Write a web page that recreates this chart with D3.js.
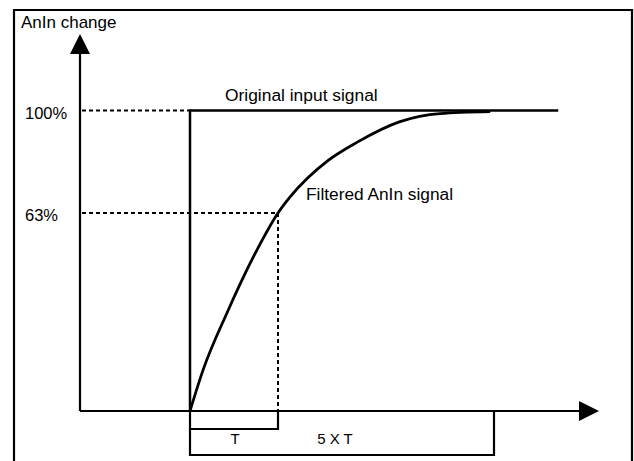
<!DOCTYPE html>
<meta charset="utf-8">
<style>
  body { margin: 0; background: #fff; }
  svg text { font-family: "Liberation Sans", Arial, sans-serif; fill: #000; }
</style>
<body>
<script src="https://cdn.jsdelivr.net/npm/d3@7/dist/d3.min.js"></script>
<script>
// levels on the vertical axis (percent of the change)
var levels = [100, 63];
var levelLabels = ["100%", "63%"];

// original input: a step at t = 0 (t in units of T)
var inputT = [0, 0, 6.19];
var inputV = [0, 100, 100];

// filtered AnIn signal
var filteredT = [0, 0.148, 0.42, 0.76, 1, 1.22, 1.93, 2.46, 3.26, 4.0, 4.93];
var filteredV = [0, 13.0, 31.2, 51.2, 63, 68.7, 82.0, 88.5, 96.0, 98.9, 99.6];

// time brackets under the axis
var bracketEnds = [1, 5];
var bracketLabels = ["T", "5 X T"];

var width = 634, height = 461;
var axisX = 80, axisY = 411, axisTop = 34, axisRight = 599;

var x = d3.scaleLinear().domain([0, 1, 5]).range([190, 278, 494]);
var y = d3.scaleLinear().domain([0, 63, 100]).range([axisY, 213, 110.5]);

var svg = d3.select("body").append("svg")
    .attr("width", width)
    .attr("height", height);

// frame
svg.append("path")
    .attr("d", "M14,470V10H632V470")
    .attr("fill", "none")
    .attr("stroke", "#000")
    .attr("stroke-width", 2.2);

svg.append("text")
    .attr("x", 21).attr("y", 28)
    .style("font-size", "17px")
    .text("AnIn change");

// axes
svg.append("line")
    .attr("x1", axisX).attr("x2", axisX)
    .attr("y1", axisTop + 18).attr("y2", axisY)
    .attr("stroke", "#000").attr("stroke-width", 2.2);
svg.append("path")
    .attr("d", "M" + axisX + "," + axisTop + "L" + (axisX + 10) + "," + (axisTop + 20) + "L" + (axisX - 10) + "," + (axisTop + 20) + "Z");

svg.append("line")
    .attr("x1", axisX).attr("x2", axisRight - 18)
    .attr("y1", axisY).attr("y2", axisY)
    .attr("stroke", "#000").attr("stroke-width", 1.8);
svg.append("path")
    .attr("d", "M" + axisRight + "," + axisY + "L" + (axisRight - 20) + "," + (axisY - 10) + "L" + (axisRight - 20) + "," + (axisY + 10) + "Z");

// level labels and dashed guides
var guideEnd = [0, 1];
levels.forEach(function(v, i) {
  svg.append("text")
      .attr("x", 25).attr("y", y(v) + 8)
      .style("font-size", "16.5px")
      .text(levelLabels[i]);
  svg.append("line")
      .attr("x1", axisX + 2).attr("x2", x(guideEnd[i]))
      .attr("y1", y(v)).attr("y2", y(v))
      .attr("stroke", "#000").attr("stroke-width", 2)
      .attr("stroke-dasharray", "4,3");
});
svg.append("line")
    .attr("x1", x(1)).attr("x2", x(1))
    .attr("y1", y(63)).attr("y2", y(0))
    .attr("stroke", "#000").attr("stroke-width", 2)
    .attr("stroke-dasharray", "4,3");

var line = d3.line()
    .x(function(d) { return x(d[0]); })
    .y(function(d) { return y(d[1]); });

svg.append("path")
    .datum(d3.zip(inputT, inputV))
    .attr("d", line)
    .attr("fill", "none")
    .attr("stroke", "#000")
    .attr("stroke-width", 2.5);

svg.append("path")
    .datum(d3.zip(filteredT, filteredV))
    .attr("d", line.curve(d3.curveMonotoneX))
    .attr("fill", "none")
    .attr("stroke", "#000")
    .attr("stroke-width", 2.8);

svg.append("text")
    .attr("x", x(0) + 35).attr("y", y(100) - 10)
    .style("font-size", "17.4px")
    .text("Original input signal");

svg.append("text")
    .attr("x", 306).attr("y", 200)
    .style("font-size", "17.3px")
    .text("Filtered AnIn signal");

// brackets
var bracketY = [429, 455];
svg.append("line")
    .attr("x1", x(0)).attr("x2", x(0))
    .attr("y1", axisY).attr("y2", bracketY[1] + 1)
    .attr("stroke", "#000").attr("stroke-width", 2.2);
bracketEnds.forEach(function(t, i) {
  svg.append("line")
      .attr("x1", x(0)).attr("x2", x(t))
      .attr("y1", bracketY[i]).attr("y2", bracketY[i])
      .attr("stroke", "#000").attr("stroke-width", 2.2);
  svg.append("line")
      .attr("x1", x(t)).attr("x2", x(t))
      .attr("y1", axisY).attr("y2", bracketY[i] + 1)
      .attr("stroke", "#000").attr("stroke-width", 2.2);
});
svg.append("text")
    .attr("x", 235).attr("y", 444)
    .attr("text-anchor", "middle")
    .style("font-size", "15px")
    .text(bracketLabels[0]);
svg.append("text")
    .attr("x", 335).attr("y", 444)
    .attr("text-anchor", "middle")
    .style("font-size", "15px")
    .text(bracketLabels[1]);
</script>
</body>
